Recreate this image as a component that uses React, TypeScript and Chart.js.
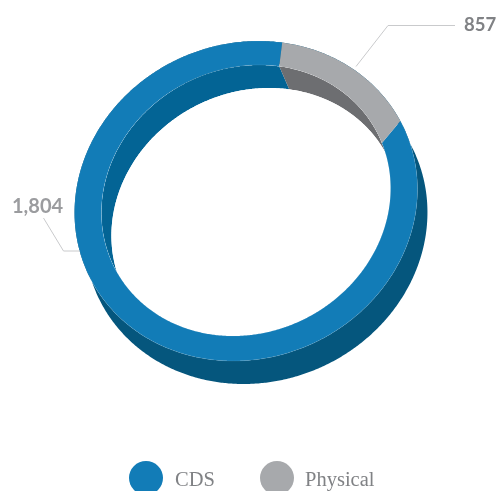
import React, { useEffect, useRef } from "react";
import { Chart, registerables } from "chart.js";

Chart.register(...registerables);

const categories = ["CDS", "Physical"];
// Numbers printed on the chart
const printedValues = ["1,804", "857"];
// The reference's slices are not proportional to the printed numbers; these are the sweeps (degrees).
const sliceSweeps = [308, 52];
const faceColors = ["#127CB7", "#A7A9AC"];
const innerWallColors = ["#036495", "#6D6E71"];
const outerWallColors = ["#05567D", "#05567D"];
const labelColors = ["#9B9C9F", "#808285"];

const DEPTH_X = 10;
const DEPTH_Y = 23;
const OUTER_X_SCALE = 171 / 160;
const OUTER_SHEAR = 12.5 / 160;
const INNER_X_SCALE = 144 / 135.5;
const INNER_SHEAR = 13 / 135.5;
const INNER_SHIFT_Y = -0.5;
const INNER_SKEW = (6.5 * Math.PI) / 180;
const STEP = Math.PI / 360;

type P = [number, number];

const outerPt = (a: any, t: number, dx = 0, dy = 0): P => [
  a.x + a.outerRadius * (OUTER_X_SCALE * Math.sin(t) + OUTER_SHEAR * Math.cos(t)) + dx,
  a.y - a.outerRadius * Math.cos(t) + dy,
];
const innerPt = (a: any, t: number, dx = 0, dy = 0): P => {
  const u = t + INNER_SKEW * Math.sin(t) * Math.sin(t);
  return [
    a.x + a.innerRadius * (INNER_X_SCALE * Math.sin(u) + INNER_SHEAR * Math.cos(u)) + dx,
    a.y + INNER_SHIFT_Y - a.innerRadius * Math.cos(u) + dy,
  ];
};
const curve = (fn: (t: number) => P, t0: number, t1: number): P[] => {
  const n = Math.max(2, Math.ceil(Math.abs(t1 - t0) / STEP));
  const out: P[] = [];
  for (let i = 0; i <= n; i++) out.push(fn(t0 + ((t1 - t0) * i) / n));
  return out;
};
const tracePoly = (ctx: CanvasRenderingContext2D, pts: P[], close = true) => {
  pts.forEach((p, i) => (i ? ctx.lineTo(p[0], p[1]) : ctx.moveTo(p[0], p[1])));
  if (close) ctx.closePath();
};
const fillPoly = (ctx: CanvasRenderingContext2D, pts: P[], color: string) => {
  ctx.beginPath();
  tracePoly(ctx, pts);
  ctx.fillStyle = color;
  ctx.fill();
};

const ring3d = {
  id: "ring3d",
  beforeDatasetsDraw(chart: any) {
    const ctx: CanvasRenderingContext2D = chart.ctx;
    const arcs = chart
      .getDatasetMeta(0)
      .data.map((el: any) => el.getProps(["x", "y", "startAngle", "endAngle", "innerRadius", "outerRadius"]));
    const span = (a: any): [number, number] => [a.startAngle + Math.PI / 2, a.endAngle + Math.PI / 2];
    const holeAll = curve((t) => innerPt(arcs[0], t), 0, Math.PI * 2);

    // outer wall: everything but the hole
    ctx.save();
    ctx.beginPath();
    ctx.rect(0, 0, chart.width, chart.height);
    tracePoly(ctx, holeAll);
    ctx.clip("evenodd");
    arcs.forEach((a: any, i: number) => {
      const [t0, t1] = span(a);
      const front = curve((t) => outerPt(a, t), t0, t1);
      const back = curve((t) => outerPt(a, t, DEPTH_X, DEPTH_Y), t1, t0);
      fillPoly(ctx, [...front, ...back], outerWallColors[i]);
    });
    ctx.restore();

    // inner wall: only through the hole
    ctx.save();
    ctx.beginPath();
    tracePoly(ctx, holeAll);
    ctx.clip();
    arcs.forEach((a: any, i: number) => {
      const [t0, t1] = span(a);
      const front = curve((t) => innerPt(a, t), t0, t1);
      const back = curve((t) => innerPt(a, t, DEPTH_X, DEPTH_Y), t1, t0);
      fillPoly(ctx, [...front, ...back], innerWallColors[i]);
    });
    // the hole's far opening shows the page again
    ctx.beginPath();
    tracePoly(ctx, curve((t) => innerPt(arcs[0], t, DEPTH_X, DEPTH_Y), 0, Math.PI * 2));
    ctx.fillStyle = "#FFFFFF";
    ctx.fill();
    ctx.restore();

    // top face
    arcs.forEach((a: any, i: number) => {
      const [t0, t1] = span(a);
      fillPoly(
        ctx,
        [...curve((t) => outerPt(a, t), t0, t1), ...curve((t) => innerPt(a, t), t1, t0)],
        faceColors[i]
      );
    });

    // faint light edge where the blue face meets its walls
    const [t0, t1] = span(arcs[0]);
    ctx.save();
    ctx.strokeStyle = "rgba(255,255,255,0.14)";
    ctx.lineWidth = 0.6;
    ctx.beginPath();
    tracePoly(ctx, curve((t) => outerPt(arcs[0], t), t0, t1), false);
    ctx.stroke();
    ctx.beginPath();
    tracePoly(ctx, curve((t) => innerPt(arcs[0], t), t0, t1), false);
    ctx.stroke();
    ctx.restore();
    return false;
  },
  afterDraw(chart: any) {
    const ctx: CanvasRenderingContext2D = chart.ctx;
    ctx.save();
    // leader lines
    ctx.strokeStyle = "#C9CACC";
    ctx.lineWidth = 1;
    const leaders: P[][] = [
      [[43.5, 218], [63.5, 251], [80, 251]],
      [[356, 66.5], [388, 25.5], [455, 25.5]],
    ];
    leaders.forEach((l) => {
      ctx.beginPath();
      tracePoly(ctx, l, false);
      ctx.stroke();
    });
    // value labels
    ctx.textBaseline = "alphabetic";
    ctx.textAlign = "left";
    ctx.font = "bold 20px Lato";
    ctx.fillStyle = labelColors[0];
    ctx.fillText(printedValues[0], 12, 213);
    ctx.font = "bold 18.5px Lato";
    ctx.fillStyle = labelColors[1];
    ctx.fillText(printedValues[1], 464, 30.5);
    // legend
    const keyX = [146, 277];
    const textX = [175, 305];
    categories.forEach((c, i) => {
      ctx.beginPath();
      ctx.arc(keyX[i], 478, 17, 0, Math.PI * 2);
      ctx.fillStyle = faceColors[i];
      ctx.fill();
      ctx.font = "20.5px 'Liberation Serif'";
      ctx.fillStyle = "#808285";
      ctx.fillText(c, textX[i], 486);
    });
    ctx.restore();
  },
};

export default function App() {
  const ref = useRef<HTMLCanvasElement>(null);
  useEffect(() => {
    const chart = new Chart(ref.current as HTMLCanvasElement, {
      type: "doughnut",
      data: {
        labels: categories,
        datasets: [{ data: sliceSweeps, backgroundColor: faceColors, borderWidth: 0 }],
      },
      options: {
        animation: false,
        responsive: false,
        devicePixelRatio: 1,
        rotation: 60,
        cutout: "84.7%",
        layout: { padding: { left: 86, right: 90, top: 41, bottom: 130 } },
        plugins: { legend: { display: false }, tooltip: { enabled: false } },
      },
      plugins: [ring3d],
    } as any);
    return () => chart.destroy();
  }, []);
  return (
    <div style={{ position: "fixed", left: 0, top: 0, width: 496, height: 491, background: "#fff" }}>
      <canvas ref={ref} width={496} height={491} style={{ display: "block" }} />
    </div>
  );
}
